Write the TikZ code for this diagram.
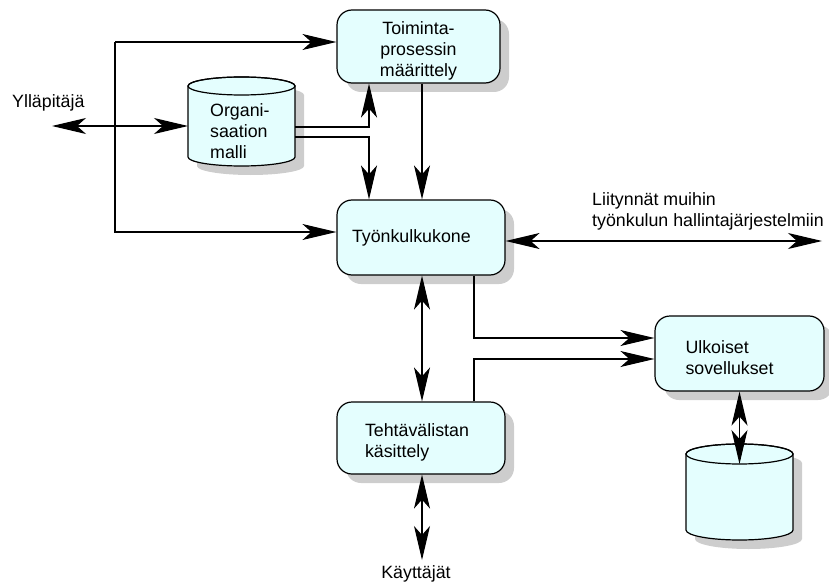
\documentclass[tikz,border=0pt]{standalone}
\usepackage{fontspec}
\setmainfont{Liberation Sans}
\usetikzlibrary{arrows.meta,shadows,calc}

\definecolor{boxfill}{RGB}{228,254,254}
\definecolor{shade}{RGB}{205,205,205}
\newcommand{\firstlinestrut}{\rule{0pt}{21pt}}

\begin{document}
\begin{tikzpicture}[x=1pt,y=-1pt,
  bigtip/.tip={Stealth[length=34pt,width=16pt,inset=9pt]},
  txt/.style={font=\fontsize{17.8}{21}\selectfont, inner sep=0pt},
  proc/.style={txt, draw=black, line width=1.2pt, fill=boxfill, rounded corners=15pt,
    drop shadow={shadow xshift=9pt, shadow yshift=-9pt, fill=shade, opacity=1}},
  conn/.style={line width=1.1pt},
  drumshadow/.style={fill=shade},
  drumbody/.style={fill=boxfill, draw=black, line width=1.2pt},
]
\useasboundingbox (0,0) rectangle (829,583);

% process boxes
\node[proc, minimum width=163pt, minimum height=73pt, align=center] (box1) at (418.5,46.5)
  {\firstlinestrut Toiminta-\\prosessin\\määrittely};
\node[proc, minimum width=168pt, minimum height=75pt, text width=138pt, align=left] (box2) at (421,237.5)
  {Työnkulkukone};
\node[proc, minimum width=168pt, minimum height=72pt, text width=112pt, align=left] (box3) at (421,438)
  {\firstlinestrut Tehtävälistan\\käsittely};
\node[proc, minimum width=169pt, minimum height=75pt, text width=108pt, align=left] (box4) at (739.5,353.5)
  {\firstlinestrut Ulkoiset\\sovellukset};

% organisation model store
\fill[drumshadow] (197,95) -- (197,166) arc[start angle=180, end angle=0, x radius=53.5, y radius=9]
  -- (304,95) arc[start angle=0, end angle=-180, x radius=53.5, y radius=9] -- cycle;
\path[drumbody] (188,86) -- (188,157) arc[start angle=180, end angle=0, x radius=53.5, y radius=9]
  -- (295,86) arc[start angle=0, end angle=-180, x radius=53.5, y radius=9] -- cycle;
\draw[line width=1.2pt] (241.5,86) ellipse[x radius=53.5, y radius=9];
\node[txt, anchor=base west, align=left] (orgtxt) at (210,158) {Organi-\\saation\\malli};

% application data store
\fill[drumshadow] (695,463) -- (695,539) arc[start angle=180, end angle=0, x radius=53.5, y radius=10]
  -- (802,463) arc[start angle=0, end angle=-180, x radius=53.5, y radius=10] -- cycle;
\path[drumbody] (686,454) -- (686,530) arc[start angle=180, end angle=0, x radius=53.5, y radius=10]
  -- (793,454) arc[start angle=0, end angle=-180, x radius=53.5, y radius=10] -- cycle;
\draw[line width=1.2pt] (739.5,454) ellipse[x radius=53.5, y radius=10];

% free labels
\node[txt, anchor=base west] (admin) at (12,108) {Ylläpitäjä};
\node[txt, anchor=base west, align=left] (others) at (592,226) {Liitynnät muihin\\työnkulun hallintajärjestelmiin};
\node[txt, anchor=base] (users) at (416,578) {Käyttäjät};

% connection points
\coordinate (org-in) at (188,126);
\coordinate (org-out1) at (295,127);
\coordinate (org-out2) at (295,137);
\coordinate (db-top) at (739.5,464);
\coordinate (admin-end) at (52,126);
\coordinate (bus-top) at (115,42);
\coordinate (bus-bot) at (115,232);
\coordinate (up-turn) at (369,127);
\coordinate (dn-turn) at (369,137);
\coordinate (mid) at (422,0);
\coordinate (ext) at (822,241);
\coordinate (users-tip) at (422,560);
\coordinate (j1) at (474,338);
\coordinate (j2) at (474,359);

% connectors
\draw[conn, bigtip-bigtip] (admin-end) -- (org-in);
\draw[conn, -bigtip] (bus-top) -- (bus-top -| box1.west);
\draw[conn, -bigtip] (bus-top) -- (bus-bot) -- (bus-bot -| box2.west);
\draw[conn, -bigtip] (org-out1) -- (up-turn) -- (up-turn |- box1.south);
\draw[conn, -bigtip] (org-out2) -- (dn-turn) -- (dn-turn |- box2.north);
\draw[conn, -bigtip] (box1.south -| mid) -- (box2.north -| mid);
\draw[conn, bigtip-bigtip] (ext -| box2.east) -- (ext);
\draw[conn, bigtip-bigtip] (box2.south -| mid) -- (box3.north -| mid);
\draw[conn, bigtip-bigtip] (box3.south -| mid) -- (users-tip);
\draw[conn, -bigtip] (j1 |- box2.south) -- (j1) -- (j1 -| box4.west);
\draw[conn, -bigtip] (j2 |- box3.north) -- (j2) -- (j2 -| box4.west);
\draw[conn, bigtip-bigtip] (box4.south) -- (db-top);
\end{tikzpicture}
\end{document}
